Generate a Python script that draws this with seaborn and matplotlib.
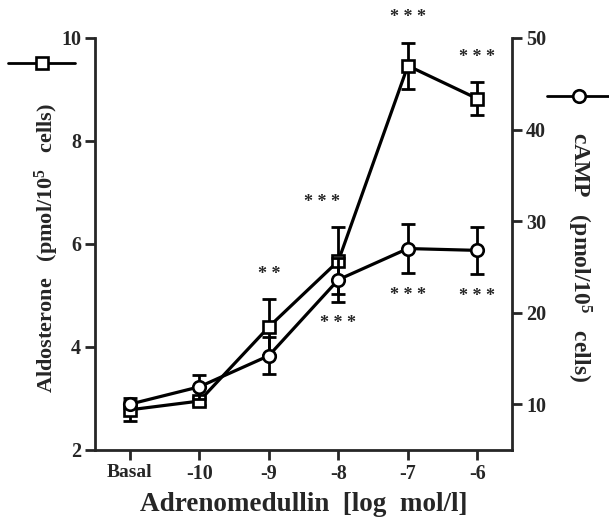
import matplotlib.pyplot as plt
import matplotlib.lines as mlines
import numpy as np
import pandas as pd
import seaborn as sns

# --- data ---
doses = ['Basal', '-10', '-9', '-8', '-7', '-6']
aldo_mean = [2.78, 2.95, 4.39, 5.67, 9.46, 8.82]
aldo_sem = [0.22, 0.08, 0.54, 0.65, 0.45, 0.32]
camp_mean = [10.0, 11.9, 15.3, 23.6, 27.0, 26.8]
camp_sem = [0.4, 1.3, 2.0, 2.4, 2.65, 2.6]
aldo_stars = ['', '', '* *', '* * *', '* * *', '* * *']
camp_stars = ['', '', '', '* * *', '* * *', '* * *']

sns.set_theme(style="ticks")
plt.rcParams['font.family'] = ['Liberation Serif', 'DejaVu Serif']
plt.rcParams['font.weight'] = 'bold'
plt.rcParams['mathtext.fontset'] = 'custom'
plt.rcParams['mathtext.rm'] = 'Liberation Serif:bold'
plt.rcParams['mathtext.default'] = 'rm'

df = pd.DataFrame({'pos': np.arange(len(doses)),
                   'aldo': aldo_mean, 'aldo_sem': aldo_sem,
                   'camp': camp_mean, 'camp_sem': camp_sem})

fig = plt.figure(figsize=(6.09, 5.17), dpi=100)
ax = fig.add_axes([0.156, 0.1296, 0.685, 0.797])
ax2 = ax.twinx()

lw = 2.3
# aldosterone (squares, left axis)
ax.errorbar(df['pos'], df['aldo'], yerr=df['aldo_sem'], fmt='none', ecolor='black',
            elinewidth=2.0, capsize=5, capthick=2.0, zorder=2)
sns.lineplot(data=df, x='pos', y='aldo', ax=ax, color='black', linewidth=lw,
             marker='s', markersize=8.5, markerfacecolor='white',
             markeredgecolor='black', markeredgewidth=1.9, zorder=3)

# cAMP (circles, right axis)
ax2.errorbar(df['pos'], df['camp'], yerr=df['camp_sem'], fmt='none', ecolor='black',
             elinewidth=2.0, capsize=5, capthick=2.0, zorder=2)
sns.lineplot(data=df, x='pos', y='camp', ax=ax2, color='black', linewidth=lw,
             marker='o', markersize=9, markerfacecolor='white',
             markeredgecolor='black', markeredgewidth=1.9, zorder=3)

# significance stars
for i, s in enumerate(aldo_stars):
    if s:
        dx = -11.5 if doses[i] == '-8' else 0
        ax.annotate(s, (i, aldo_mean[i] + aldo_sem[i]), xytext=(dx, 18),
                    textcoords='offset points', ha='center', va='center',
                    fontsize=13, annotation_clip=False)
for i, s in enumerate(camp_stars):
    if s:
        ax2.annotate(s, (i, camp_mean[i] - camp_sem[i]), xytext=(0, -16),
                     textcoords='offset points', ha='center', va='center',
                     fontsize=13, annotation_clip=False)

ax.set_xlim(-0.5, 5.5)
ax.set_ylim(2, 10)
ax2.set_ylim(5, 50)
ax.set_xticks(df['pos'])
ax.set_xticklabels(doses)
ax.set_yticks([2, 4, 6, 8, 10])
ax2.set_yticks([10, 20, 30, 40, 50])

for a in (ax, ax2):
    a.spines['top'].set_visible(False)
    for sp in a.spines.values():
        sp.set_linewidth(2.0)
    a.tick_params(width=2.0, length=7, labelsize=14.5, pad=3)
ax.spines['right'].set_visible(False)
ax2.spines['left'].set_visible(False)
ax2.spines['bottom'].set_visible(False)
ax.get_xticklabels()[0].set_fontsize(14)

ax.set_xlabel('Adrenomedullin  [log  mol/l]', fontsize=19.5, fontweight='bold', labelpad=6)
ax.set_ylabel('Aldosterone   (pmol/10$^{5}$   cells)', fontsize=16, fontweight='bold', labelpad=0)
ax2.set_ylabel('cAMP   (pmol/10$^{5}$   cells)', fontsize=17, fontweight='bold',
               rotation=270, labelpad=34)
ax.yaxis.label.set_y(0.49)
ax2.yaxis.label.set_y(0.468)

# legend keys
fig.add_artist(mlines.Line2D([0.013, 0.123], [0.878, 0.878], color='black', linewidth=2,
                             transform=fig.transFigure))
fig.add_artist(mlines.Line2D([0.069], [0.878], color='black', marker='s', markersize=8.5,
                             markerfacecolor='white', markeredgewidth=1.9,
                             transform=fig.transFigure))
fig.add_artist(mlines.Line2D([0.898, 1.0], [0.814, 0.814], color='black', linewidth=2,
                             transform=fig.transFigure))
fig.add_artist(mlines.Line2D([0.951], [0.814], color='black', marker='o', markersize=9,
                             markerfacecolor='white', markeredgewidth=1.9,
                             transform=fig.transFigure))

plt.savefig('out.png', dpi=100)
